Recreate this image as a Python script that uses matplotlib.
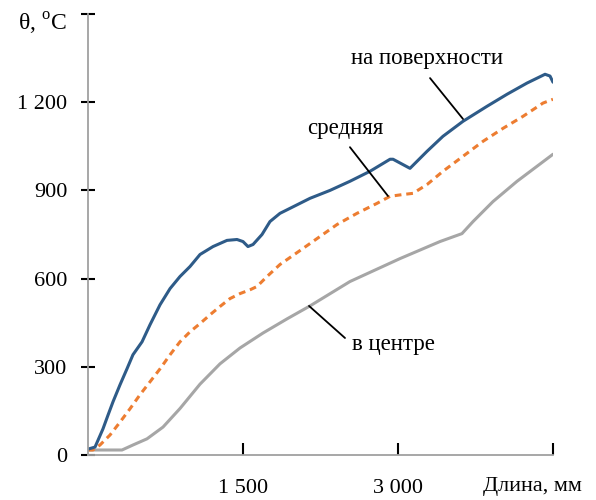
import matplotlib
matplotlib.use("Agg")
import matplotlib.pyplot as plt

# Data (length in mm, temperature in °C)
surf_x = [0, 68, 145, 194, 242, 310, 377, 435, 523, 600, 697, 794, 890, 987, 1084, 1210, 1345, 1442, 1500, 1548, 1597, 1684, 1761, 1858, 1955, 2148, 2342, 2535, 2729, 2923, 2952, 3116, 3281, 3435, 3629, 3861, 4055, 4248, 4423, 4471, 4500]
surf_y = [20, 27, 89, 136, 181, 239, 293, 341, 385, 443, 511, 566, 607, 641, 682, 709, 730, 733, 726, 709, 716, 750, 794, 822, 839, 873, 900, 931, 965, 1006, 1006, 975, 1033, 1084, 1135, 1186, 1227, 1265, 1295, 1289, 1268]

mid_x = [0, 48, 116, 213, 310, 406, 503, 600, 697, 794, 890, 987, 1084, 1181, 1277, 1374, 1471, 1568, 1635, 1732, 1858, 2050, 2216, 2410, 2603, 2797, 2923, 3048, 3145, 3281, 3435, 3629, 3823, 4016, 4210, 4403, 4500]
mid_y = [17, 17, 34, 68, 112, 157, 205, 249, 293, 341, 385, 419, 447, 477, 505, 532, 549, 562, 573, 607, 648, 695, 736, 784, 822, 856, 880, 886, 890, 920, 965, 1016, 1067, 1111, 1152, 1197, 1210]

cen_x = [0, 329, 435, 571, 726, 890, 1084, 1277, 1471, 1694, 1926, 2148, 2535, 3019, 3406, 3619, 3726, 3919, 4152, 4345, 4500]
cen_y = [17, 17, 34, 55, 95, 158, 241, 310, 364, 415, 463, 507, 590, 668, 726, 753, 794, 862, 931, 982, 1023]

y_ticks = [0, 300, 600, 900, 1200, 1500]
y_labels = ["0", "300", "600", "900", "1 200", ""]
x_ticks = [1500, 3000, 4500]
x_labels = ["1 500", "3 000", ""]

series_names = ["на поверхности", "средняя", "в центре"]

plt.rcParams['font.family'] = ['Liberation Serif', 'DejaVu Serif']
plt.rcParams['mathtext.fontset'] = 'custom'
plt.rcParams['mathtext.rm'] = 'Liberation Serif'

fig = plt.figure(figsize=(5.96, 5.0), dpi=100)
ax = fig.add_axes([88/596, 1-455/500, (553-88)/596, (455-14)/500])

ax.plot(cen_x, cen_y, color='#a6a6a6', lw=2.2, solid_capstyle='round')
ax.plot(mid_x, mid_y, color='#ed7d31', lw=2.2, ls=(0, (2.2, 1.6)))
ax.plot(surf_x, surf_y, color='#2e5b88', lw=2.2, solid_capstyle='round')

ax.set_xlim(0, 4500)
ax.set_ylim(0, 1500)
for s in ['top', 'right']:
    ax.spines[s].set_visible(False)
for s in ['left', 'bottom']:
    ax.spines[s].set_color('#a0a0a0')
    ax.spines[s].set_linewidth(1.3)

ax.set_yticks(y_ticks)
ax.set_yticklabels(y_labels)
ax.set_xticks(x_ticks)
ax.set_xticklabels(x_labels)
ax.tick_params(axis='y', direction='inout', length=10, width=1.5, color='black', pad=10, labelsize=16)
ax.tick_params(axis='x', direction='in', length=9, width=1.5, color='black', pad=17, labelsize=16)

fig.text(18/596, 1-24/500, r"θ, $^{\mathrm{o}}$C", fontsize=17, ha='left', va='center')
fig.text(532/596, 1-487/500, "Длина, мм", fontsize=16, ha='center', va='center')

# annotations: label text and leader lines
fs = 16.5
ax.text(3281, 1347, series_names[0], fontsize=fs, ha='center', va='center')
ax.annotate("", xy=(3629, 1143), xytext=(3310, 1282),
            arrowprops=dict(arrowstyle='-', color='black', lw=1.3, shrinkA=0, shrinkB=0))
ax.text(2487, 1112, series_names[1], fontsize=fs, ha='center', va='center')
ax.annotate("", xy=(2903, 881), xytext=(2535, 1047),
            arrowprops=dict(arrowstyle='-', color='black', lw=1.3, shrinkA=0, shrinkB=0))
ax.text(2952, 377, series_names[2], fontsize=fs, ha='center', va='center')
ax.annotate("", xy=(2139, 507), xytext=(2487, 398),
            arrowprops=dict(arrowstyle='-', color='black', lw=1.3, shrinkA=0, shrinkB=0))

fig.savefig("out.png", dpi=100)
